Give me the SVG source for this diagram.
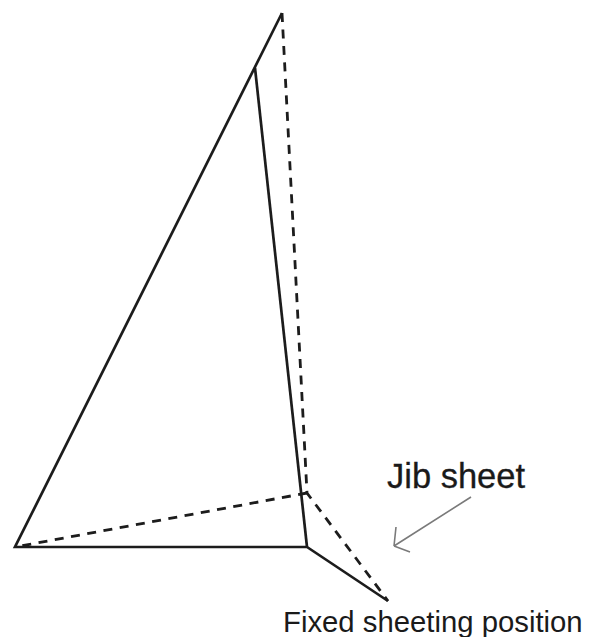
<svg xmlns="http://www.w3.org/2000/svg" width="595" height="637" viewBox="0 0 595 637">
<style>
.s{fill:none;stroke:#1c1c1c;stroke-width:2.7}
.d{fill:none;stroke:#1c1c1c;stroke-width:2.8;stroke-dasharray:9 7.5}
.a{fill:none;stroke:#7a7a7a;stroke-width:1.6}
text{font-family:"Liberation Sans",Arial,sans-serif;fill:#1a1a1a}
</style>
<rect width="595" height="637" fill="#fff"/>
<g id="connectors">
<path class="s" d="M282 13L15 547H307L388 601"/>
<path class="s" d="M255 68L307 547"/>
<path class="d" d="M282 13L307 493L388 601"/>
<path class="d" d="M307 493L15 547"/>
<path class="a" d="M471 497L394 546M394 546L396 527M394 546L410 552"/>
</g>
<g id="label-jib"><text x="387" y="488" font-size="34.5" stroke="#1a1a1a" stroke-width="0.3">Jib sheet</text></g>
<g id="label-fixed"><text x="283" y="632" font-size="29.3" fill="#333">Fixed sheeting position</text></g>
</svg>
